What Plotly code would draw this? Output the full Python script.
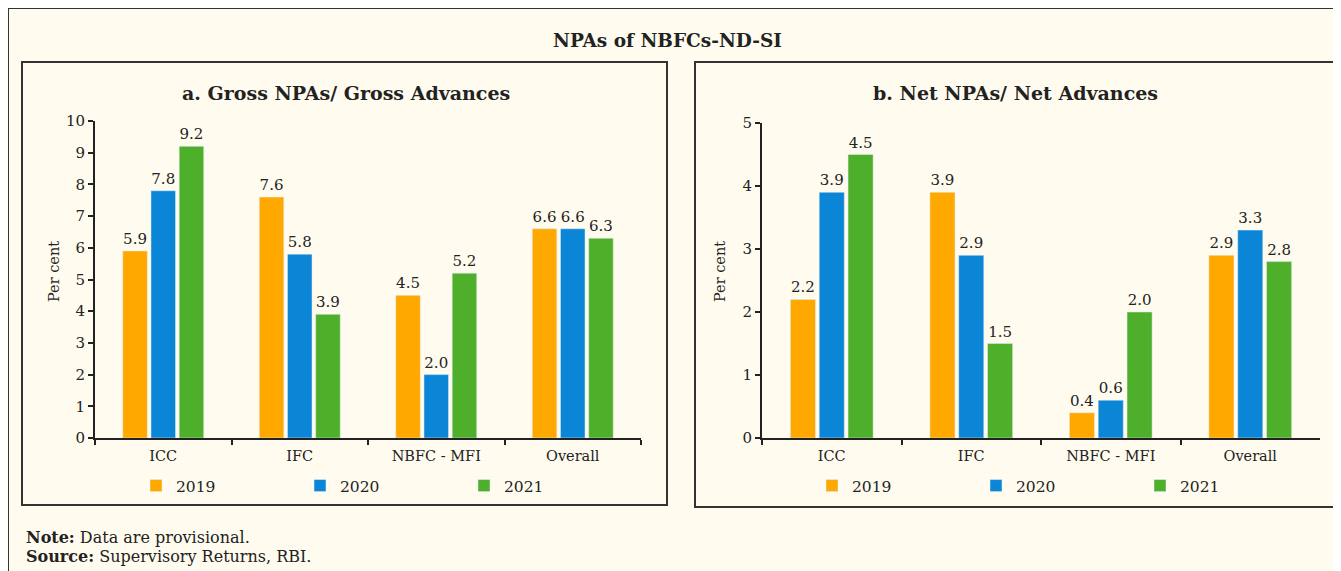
import plotly.graph_objects as go

W, H = 1341, 571
OFF = 8  # page body margin offset

categories = ["ICC", "IFC", "NBFC - MFI", "Overall"]
years = ["2019", "2020", "2021"]
colors = ["#FFA800", "#0B86D6", "#4DAF2A"]

gross_2019 = [5.9, 7.6, 4.5, 6.6]
gross_2020 = [7.8, 5.8, 2.0, 6.6]
gross_2021 = [9.2, 3.9, 5.2, 6.3]

net_2019 = [2.2, 3.9, 0.4, 2.9]
net_2020 = [3.9, 2.9, 0.6, 3.3]
net_2021 = [4.5, 1.5, 2.0, 2.8]

gross = [gross_2019, gross_2020, gross_2021]
net = [net_2019, net_2020, net_2021]

FONT = "DejaVu Serif"
BG = "#FFFCEF"
INK = "#222222"


def px(x):
    return (x - OFF) / W


def py(y):
    return 1 - (y - OFF) / H


fig = go.Figure()

for i, (yr, col) in enumerate(zip(years, colors)):
    fig.add_trace(go.Bar(
        x=categories, y=gross[i], name=yr, marker_color=col,
        text=[f"{v:.1f}" for v in gross[i]], textposition="outside",
        textfont=dict(family=FONT, size=15, color=INK), cliponaxis=False,
        xaxis="x", yaxis="y", legend="legend", hoverinfo="x+y+name",
    ))
for i, (yr, col) in enumerate(zip(years, colors)):
    fig.add_trace(go.Bar(
        x=categories, y=net[i], name=yr, marker_color=col,
        text=[f"{v:.1f}" for v in net[i]], textposition="outside",
        textfont=dict(family=FONT, size=15, color=INK), cliponaxis=False,
        xaxis="x2", yaxis="y2", legend="legend2", hoverinfo="x+y+name",
    ))

xaxis_common = dict(
    type="category", showline=True, linecolor=INK, linewidth=2,
    ticks="outside", tickson="boundaries", ticklen=5, tickwidth=1.5, tickcolor=INK,
    ticklabelstandoff=4,
    tickfont=dict(family=FONT, size=14.5, color=INK), showgrid=False, zeroline=False,
    fixedrange=True, automargin=False,
)
yaxis_common = dict(
    showline=True, linecolor=INK, linewidth=2, ticks="outside", ticklen=5,
    tickwidth=1.5, tickcolor=INK, tickfont=dict(family=FONT, size=15, color=INK),
    showgrid=False, zeroline=False, dtick=1, fixedrange=True, automargin=False,
)

legend_common = dict(
    orientation="h", bgcolor="rgba(0,0,0,0)", yanchor="middle", xanchor="left",
    font=dict(family=FONT, size=15.5, color=INK), entrywidth=119, entrywidthmode="pixels",
    itemclick=False, itemdoubleclick=False, traceorder="normal",
)

fig.update_layout(
    width=W, height=H, margin=dict(l=0, r=0, t=0, b=0, pad=0, autoexpand=False),
    paper_bgcolor=BG, plot_bgcolor=BG,
    barmode="group", bargap=0.38, bargroupgap=0.13,
    font=dict(family=FONT, color=INK),
    xaxis=dict(domain=[px(95), px(641)], anchor="y", **xaxis_common),
    yaxis=dict(domain=[py(438), py(121)], anchor="x", range=[0, 10], **yaxis_common),
    xaxis2=dict(domain=[px(762), px(1320)], anchor="y2", **xaxis_common),
    yaxis2=dict(domain=[py(438), py(123)], anchor="x2", range=[0, 5], **yaxis_common),
    legend=dict(x=px(136), y=py(486), **legend_common),
    legend2=dict(x=px(812), y=py(486), **legend_common),
    showlegend=True,
)

shapes = [
    # outer frame
    dict(type="rect", xref="paper", yref="paper", x0=px(8), x1=px(1360), y0=py(8), y1=py(600),
         line=dict(color="#333333", width=2), fillcolor="rgba(0,0,0,0)", layer="below"),
    # panel frames
    dict(type="rect", xref="paper", yref="paper", x0=px(22), x1=px(667), y0=py(62), y1=py(505),
         line=dict(color="#333333", width=2), fillcolor="rgba(0,0,0,0)", layer="below"),
    dict(type="rect", xref="paper", yref="paper", x0=px(695), x1=px(1336), y0=py(62), y1=py(507),
         line=dict(color="#333333", width=2), fillcolor="rgba(0,0,0,0)", layer="below"),
]
fig.update_layout(shapes=shapes)

annotations = [
    dict(text="<b>NPAs of NBFCs-ND-SI</b>", x=px(667), y=py(40), font=dict(size=18.5)),
    dict(text="<b>a. Gross NPAs/ Gross Advances</b>", x=px(346), y=py(93), font=dict(size=19)),
    dict(text="<b>b. Net NPAs/ Net Advances</b>", x=px(1015), y=py(93), font=dict(size=19)),
    dict(text="Per cent", x=px(54), y=py(272), textangle=-90, font=dict(size=14.5)),
    dict(text="Per cent", x=px(720), y=py(272), textangle=-90, font=dict(size=14.5)),
    dict(text="<b>Note:</b> Data are provisional.", x=px(24), y=py(537), xanchor="left", font=dict(size=16)),
    dict(text="<b>Source:</b> Supervisory Returns, RBI.", x=px(24), y=py(556), xanchor="left", font=dict(size=16)),
]
for a in annotations:
    a.setdefault("xanchor", "center")
    a.update(xref="paper", yref="paper", yanchor="middle", showarrow=False)
    a["font"].update(family=FONT, color=INK)
fig.update_layout(annotations=annotations)

fig.write_html("out.html")
